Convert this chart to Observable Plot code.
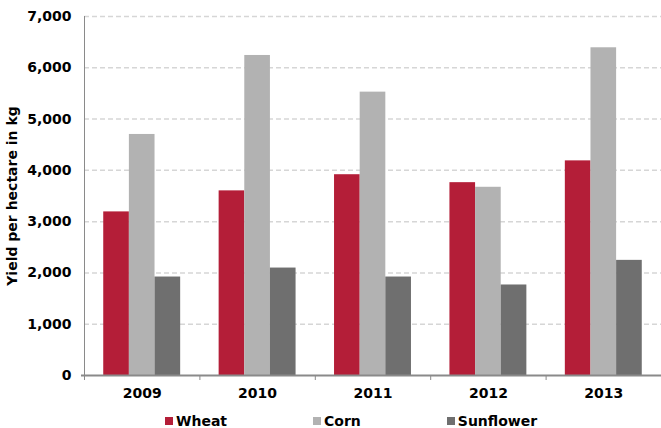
<!DOCTYPE html>
<html>
<head>
<meta charset="utf-8">
<script src="https://cdn.jsdelivr.net/npm/d3@7"></script>
<script src="https://cdn.jsdelivr.net/npm/@observablehq/plot@0.6"></script>
<style>
  html, body { margin: 0; padding: 0; background: #fff; }
  body { width: 661px; height: 428px; overflow: hidden; font-family: "DejaVu Sans", Verdana, sans-serif; }
  #legend { display: flex; align-items: center; height: 30px; padding-left: 165px; gap: 86px;
            font: bold 14px "DejaVu Sans", Verdana, sans-serif; color: #000; }
  #legend .item { display: flex; align-items: center; gap: 3px; }
  #legend .sw { width: 8px; height: 8px; display: inline-block; }
</style>
</head>
<body>
<div id="chart"></div>
<div id="legend"></div>
<script>
// Crop yields per hectare (kg), by year
const years = ["2009", "2010", "2011", "2012", "2013"];
const crops = ["Wheat", "Corn", "Sunflower"];
const wheat = [3190, 3600, 3915, 3760, 4185];
const corn = [4700, 6240, 5525, 3670, 6390];
const sunflower = [1920, 2095, 1920, 1765, 2245];
const cropColors = ["#B41E38", "#B2B2B2", "#6F6F6F"];
const yTicks = [0, 1000, 2000, 3000, 4000, 5000, 6000, 7000];

const series = [wheat, corn, sunflower];
const rows = years.flatMap((year, i) =>
  crops.map((crop, k) => ({year, crop, i, k, value: series[k][i]}))
);

// each year spans one unit on x; the three bars fill the middle two thirds
const groupPad = 1 / 6;
const barWidth = (1 - 2 * groupPad) / crops.length;
const axisGray = "#8a8a8a";

const chart = Plot.plot({
  width: 661,
  height: 406,
  marginTop: 16,
  marginBottom: 31,
  marginLeft: 84,
  marginRight: 0,
  style: {fontFamily: "DejaVu Sans, Verdana, sans-serif", fontSize: "14px", fontWeight: "bold", color: "#000", background: "#fff"},
  x: {domain: [0, years.length], axis: null},
  y: {domain: [0, 7000], axis: null},
  color: {domain: crops, range: cropColors},
  marks: [
    Plot.gridY(yTicks.slice(1), {stroke: "#d6d6d6", strokeOpacity: 1, strokeWidth: 1.5, strokeDasharray: "5,3"}),
    Plot.rectY(rows, {
      x1: d => d.i + groupPad + d.k * barWidth,
      x2: d => d.i + groupPad + (d.k + 1) * barWidth,
      y1: 0,
      y2: "value",
      fill: "crop"
    }),
    Plot.ruleX([0], {stroke: axisGray, strokeWidth: 1}),
    // category boundary ticks
    Plot.axisX(d3.range(years.length + 1), {tickSize: 5, tickFormat: () => "", stroke: axisGray, label: null}),
    // year labels at group centers
    Plot.axisX(years.map((_, i) => i + 0.5), {
      tickSize: 0, tickPadding: 13, label: null,
      tickFormat: v => years[Math.floor(v)]
    }),
    Plot.ruleY([0], {stroke: axisGray, strokeWidth: 2, insetLeft: -3}),
    Plot.axisY(yTicks, {
      tickSize: 0, tickPadding: 13, tickFormat: d3.format(","),
      label: "Yield per hectare in kg", labelAnchor: "center", labelArrow: "none", labelOffset: 77
    })
  ]
});
document.getElementById("chart").append(chart);

// legend below the plot
const legend = d3.select("#legend");
crops.forEach((crop, k) => {
  const item = legend.append("div").attr("class", "item");
  item.append("span").attr("class", "sw").style("background", cropColors[k]);
  item.append("span").text(crop);
});
</script>
</body>
</html>
